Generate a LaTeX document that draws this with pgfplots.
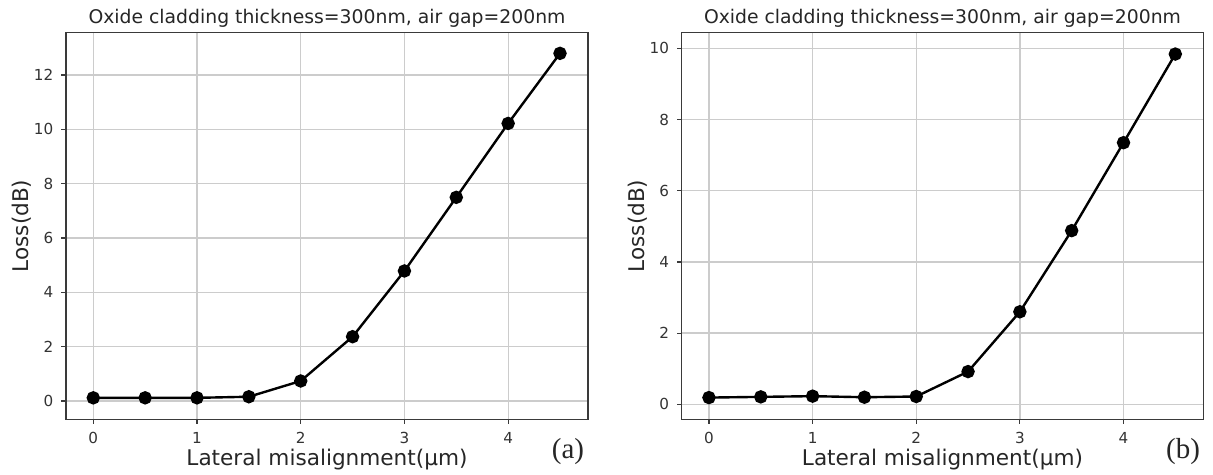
\documentclass[border=0pt]{standalone}
\usepackage{fontspec}
\setmainfont{DejaVu Sans}
\newfontfamily\timesfont{Liberation Serif}
\usepackage{pgfplots}
\pgfplotsset{compat=1.18}
\definecolor{gridc}{HTML}{CCCCCC}
\definecolor{framec}{HTML}{3A3A3A}
\pgfplotsset{
  lossax/.style={
    scale only axis,
    width=261pt, height=193.3pt,
    axis line style={framec, line width=0.65pt},
    grid=major,
    major grid style={gridc, line width=0.65pt},
    tick align=outside,
    tick pos=left,
    major tick length=2.35pt,
    every tick/.style={framec, line width=0.6pt},
    xmin=-0.263, xmax=4.77,
    xtick={0,1,2,3,4},
    /pgf/number format/assume math mode=true,
    tick label style={font=\fontsize{7.6}{9}\selectfont, text=black!80},
    xticklabel style={yshift=-0.5pt},
    yticklabel style={xshift=-0.5pt},
    title style={font=\fontsize{9.4}{11}\selectfont, text=black!85, at={(axis description cs:0.5,1)}, anchor=base, yshift=-1.6pt},
    xlabel style={font=\fontsize{10.8}{12}\selectfont, text=black!85, at={(axis description cs:0.5,0)}, anchor=base, yshift=-23.3pt},
    ylabel style={font=\fontsize{10.8}{12}\selectfont, text=black!85, at={(axis description cs:-0.0843,0.5)}, anchor=center},
    title={Oxide cladding thickness=300nm, air gap=200nm},
    xlabel={Lateral misalignment(μm)},
    ylabel={Loss(dB)},
  },
  lossplot/.style={black, line width=1.2pt, mark=*, mark size=2.75pt, mark options={solid, fill=black}},
}
\begin{document}
\begin{tikzpicture}
\useasboundingbox (0,0) rectangle (606.5pt,237.5pt);
\begin{axis}[lossax, at={(33pt,27.85pt)}, anchor=south west,
  ymin=-0.67, ymax=13.56, ytick={0,2,4,6,8,10,12}]
\addplot[lossplot] coordinates {
(0,0.12) (0.5,0.12) (1,0.12) (1.5,0.16) (2,0.74) (2.5,2.37) (3,4.79) (3.5,7.5) (4,10.22) (4.5,12.8)};
\end{axis}
\node[font=\timesfont\fontsize{14.5}{16}\selectfont, text=black!85] at (284pt,11.5pt) {(a)};
\begin{axis}[lossax, at={(340.85pt,27.85pt)}, anchor=south west, width=260.8pt,
  ymin=-0.42, ymax=10.44, ytick={0,2,4,6,8,10}]
\addplot[lossplot] coordinates {
(0,0.19) (0.5,0.21) (1,0.23) (1.5,0.2) (2,0.22) (2.5,0.92) (3,2.6) (3.5,4.88) (4,7.35) (4.5,9.84)};
\end{axis}
\node[font=\timesfont\fontsize{14.5}{16}\selectfont, text=black!85] at (591.5pt,11.5pt) {(b)};
\end{tikzpicture}
\end{document}
